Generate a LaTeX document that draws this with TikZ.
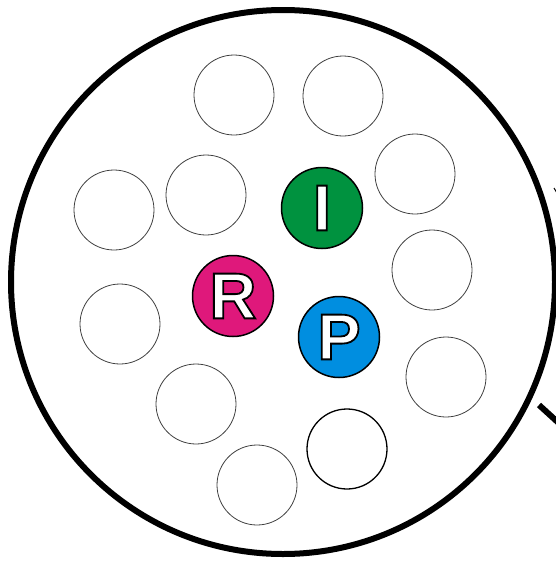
\documentclass[tikz,border=0pt]{standalone}
\usepackage{fontspec}
\newfontfamily\sitefont{Liberation Sans Bold}
\definecolor{siteI}{RGB}{0,146,63}
\definecolor{siteR}{RGB}{223,24,123}
\definecolor{siteP}{RGB}{0,142,224}
\tikzset{
  lens/.style={circle, draw=black, line width=6pt, minimum size=544pt, inner sep=0pt},
  hole/.style={circle, draw=black!75, line width=0.8pt, minimum size=80pt, inner sep=0pt},
  site/.style={circle, draw=black, line width=1.5pt, minimum size=81pt, inner sep=0pt,
    text=white, font=\fontsize{65}{65}\selectfont\sitefont}
}
% white letter with a black rim (fill and stroke)
\newcommand{\rimmed}[1]{\special{pdf:literal direct 2 Tr 1.8 w 0 G}#1\special{pdf:literal direct 0 Tr}}
\begin{document}
\begin{tikzpicture}[x=1pt, y=-1pt]
  \useasboundingbox (0,0) rectangle (556,563);

  \node[lens] (lens) at (283,282) {};
  \draw[line width=6pt] (539,405) -- (562,426);
  \draw[line width=1pt] (554,188) -- (557,193);

  % empty pockets
  \node[hole] (h1) at (234,95) {};
  \node[hole] (h2) at (343,96) {};
  \node[hole] (h3) at (415,174) {};
  \node[hole] (h4) at (206,195) {};
  \node[hole] (h5) at (114,210) {};
  \node[hole] (h6) at (432,270) {};
  \node[hole] (h7) at (120,324) {};
  \node[hole] (h8) at (446,377) {};
  \node[hole] (h9) at (196,404) {};
  \node[hole, draw=black, line width=1.3pt] (h10) at (347,449) {};
  \node[hole] (h11) at (257,485) {};

  % labelled sites
  \node[site, fill=siteI] (I) at (322,208) {\rimmed{I}};
  \node[site, fill=siteR] (R) at (233,296) {\rimmed{R}};
  \node[site, fill=siteP] (P) at (339,337) {\rimmed{P}};
\end{tikzpicture}
\end{document}
